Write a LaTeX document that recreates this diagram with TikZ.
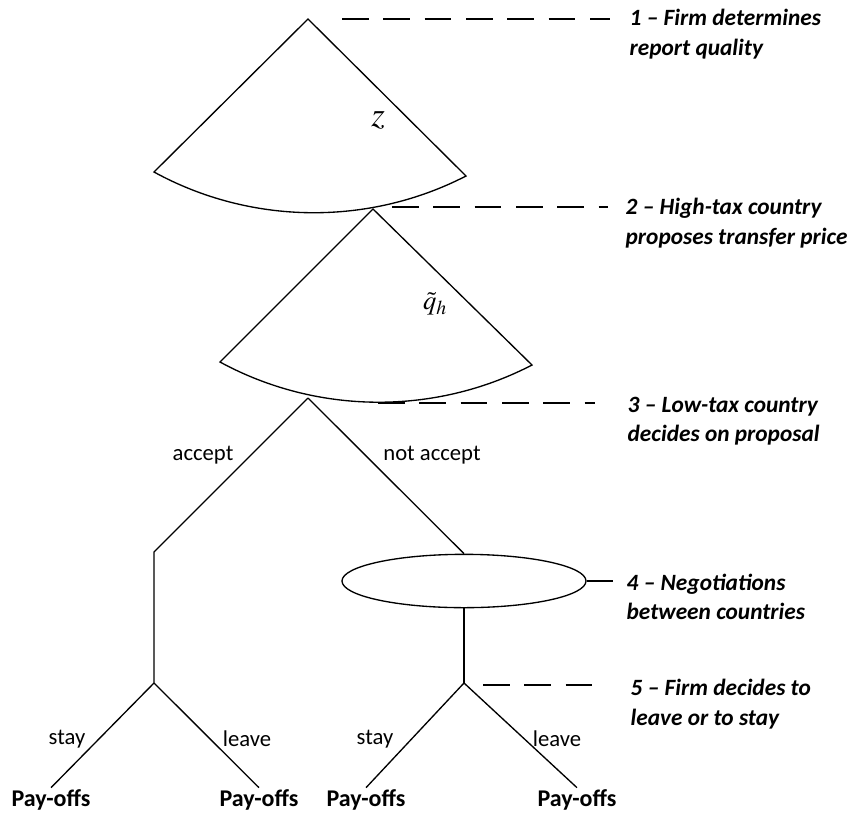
\documentclass[tikz,border=0pt]{standalone}
\usepackage{mathptmx}
\usepackage{fontspec}
\setmainfont{Carlito}
\usetikzlibrary{shapes.geometric}
\tikzset{
	stage/.style={anchor=west, inner sep=0pt, align=left, font=\fontsize{17.5}{22}\selectfont\bfseries\itshape},
	leader/.style={dash pattern=on 20pt off 11pt},
	choice/.style={font=\fontsize{17}{20}\selectfont, inner sep=0pt},
	pay/.style={font=\fontsize{18}{20}\selectfont\bfseries, inner sep=1pt},
	fan/.style={bend right=28, looseness=0.9}
}

\begin{document}
\begin{tikzpicture}[x=0.75pt, y=-0.75pt, line width=1pt]
	\useasboundingbox (0,0) rectangle (853,814);
	\coordinate (topA) at (308,19);
	\coordinate (leftA) at (154,172);
	\coordinate (rightA) at (466,176);
	\coordinate (topB) at (373,209);
	\coordinate (leftB) at (220,362);
	\coordinate (rightB) at (532,365);
	\coordinate (dec) at (308,398);
	\coordinate (kink) at (154,552);
	\coordinate (firmA) at (154,683);
	\coordinate (firmB) at (464,683);
	\draw (topA) -- (leftA) to[fan] (rightA) -- cycle;
	\draw (topB) -- (leftB) to[fan] (rightB) -- cycle;
	\node (z) at (378,120) {\fontsize{26}{30}\selectfont$z$};
	\node (qh) at (435,304) {\fontsize{20}{24}\selectfont$\tilde{q}_h$};
	\node[draw, ellipse, minimum width=183pt, minimum height=40pt, inner sep=0pt] (neg) at (464,581) {};
	\node[pay] (payA) at (51,800) {Pay-offs};
	\node[pay] (payB) at (259,800) {Pay-offs};
	\node[pay] (payC) at (366,800) {Pay-offs};
	\node[pay] (payD) at (577,800) {Pay-offs};
	\draw (dec) -- (kink) -- (firmA);
	\draw (dec) -- (neg.north);
	\draw (neg.south) -- (firmB);
	\draw (firmA) -- (payA.north);
	\draw (firmA) -- (payB.north);
	\draw (firmB) -- (payC.north);
	\draw (firmB) -- (payD.north);
	\node[choice] (acc) at (203,455) {accept};
	\node[choice] (nacc) at (432,455) {not accept};
	\node[choice] (stayA) at (67,739) {stay};
	\node[choice] (leaveA) at (247,739) {leave};
	\node[choice] (stayB) at (375,739) {stay};
	\node[choice] (leaveB) at (557,739) {leave};
	\coordinate (l1a) at (342,19);
	\coordinate (l1b) at (610,19);
	\coordinate (l2a) at (392,207);
	\coordinate (l2b) at (608,207);
	\coordinate (l3a) at (378,403);
	\coordinate (l3b) at (595,403);
	\coordinate (l4b) at (613,581);
	\coordinate (l5a) at (483,685);
	\coordinate (l5b) at (595,685);
	\draw[leader] (l1a) -- (l1b);
	\draw[leader] (l2a) -- (l2b);
	\draw[leader] (l3a) -- (l3b);
	\draw (neg.east) -- (l4b);
	\draw[leader] (l5a) -- (l5b);
	\node[stage] (s1) at (629,34) {1 – Firm determines\\report quality};
	\node[stage] (s2) at (625,223) {2 – High-tax country\\proposes transfer price};
	\node[stage] (s3) at (627,421) {3 – Low-tax country\\decides on proposal};
	\node[stage] (s4) at (626,597) {4 – Negotiations\\between countries};
	\node[stage] (s5) at (630,704) {5 – Firm decides to\\leave or to stay};
\end{tikzpicture}
\end{document}
